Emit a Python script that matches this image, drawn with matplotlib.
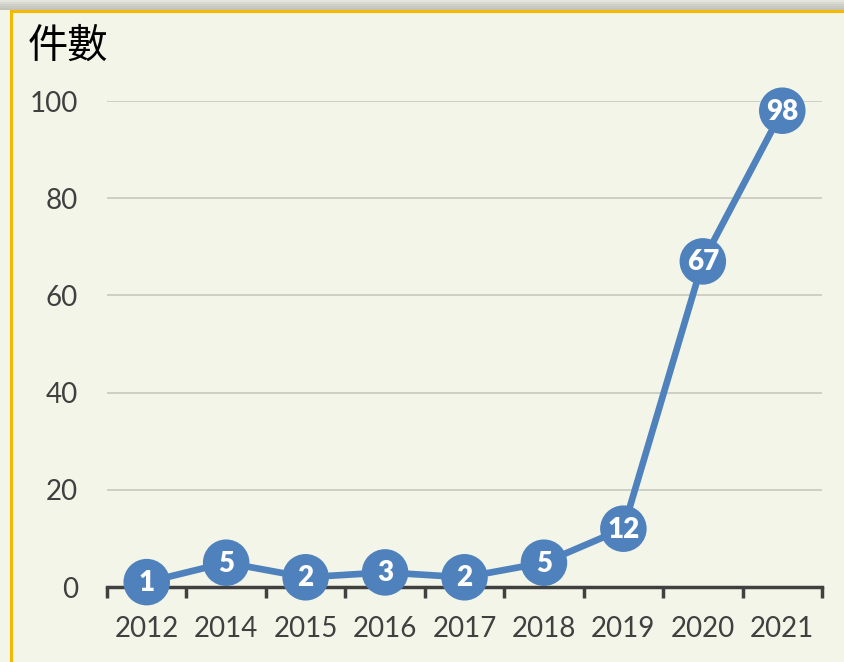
import numpy as np
import matplotlib.pyplot as plt
from matplotlib.patches import Rectangle
from matplotlib.lines import Line2D

# datos del grafico
years = ['2012', '2014', '2015', '2016', '2017', '2018', '2019', '2020', '2021']
counts = [1, 5, 2, 3, 2, 5, 12, 67, 98]
yticks = [0, 20, 40, 60, 80, 100]

bg = '#f3f5e8'
blue = '#4f81bd'
gray = '#404040'

fig = plt.figure(figsize=(8.44, 6.62), dpi=100, facecolor=bg)

# sombra suave arriba
for i, c in enumerate(['#e4e5dc', '#d8d9d0', '#cfd0c7', '#c8c9c0', '#c3c4bb']):
    fig.patches.append(Rectangle((0, 1 - (i * 2 + 2) / 662), 1, 2 / 662,
                                 transform=fig.transFigure, facecolor=c,
                                 edgecolor='none', zorder=0))
# borde naranja
fig.lines.append(Line2D([11/844, 1], [1 - 11/662, 1 - 11/662], transform=fig.transFigure,
                        color='#f5b800', lw=2.2))
fig.lines.append(Line2D([11/844, 11/844], [0, 1 - 11/662], transform=fig.transFigure,
                        color='#f5b800', lw=2.2))

ax = fig.add_axes([107/844, 1 - 587/662, (822 - 107)/844, (587 - 101)/662])
ax.set_facecolor('none')

x = np.arange(len(years))
ax.set_xlim(-0.5, len(years) - 0.5)
ax.set_ylim(0, 100)

for v in yticks[1:]:
    ax.axhline(v, color='#cdcfc6', lw=1.4, zorder=1)

ax.plot(x, counts, color=blue, lw=4.8, zorder=3, clip_on=False, solid_capstyle='round')
ax.scatter(x, counts, s=33.5 ** 2, color=blue, edgecolors='none',
           zorder=4, clip_on=False)
for xi, c in zip(x, counts):
    ax.text(xi, c - 0.2, str(c), color='white', fontsize=20, fontweight='heavy',
            ha='center', va='center', zorder=5, family='Lato')

for s in ['top', 'right', 'left']:
    ax.spines[s].set_visible(False)
ax.spines['bottom'].set_color(gray)
ax.spines['bottom'].set_linewidth(2.5)
ax.spines['bottom'].set_zorder(2)

ax.set_xticks(np.arange(-0.5, len(years)))
ax.set_xticklabels([])
ax.tick_params(axis='x', length=8, width=2.5, color=gray, direction='out')
for xi, yr in zip(x, years):
    ax.text(xi, -8.6, yr, ha='center', va='center', fontsize=20, color=gray,
            family='Lato')

ax.set_yticks(yticks)
ax.set_yticklabels([str(v) for v in yticks], fontsize=20, color=gray, family='Lato')
ax.tick_params(axis='y', length=0, pad=21)

fig.text(28/844, 1 - 46/662, '件數', fontsize=29, color='black', va='center', ha='left',
         family=['Noto Sans CJK TC', 'DejaVu Sans'])

fig.savefig('out.png', dpi=100, facecolor=bg)
